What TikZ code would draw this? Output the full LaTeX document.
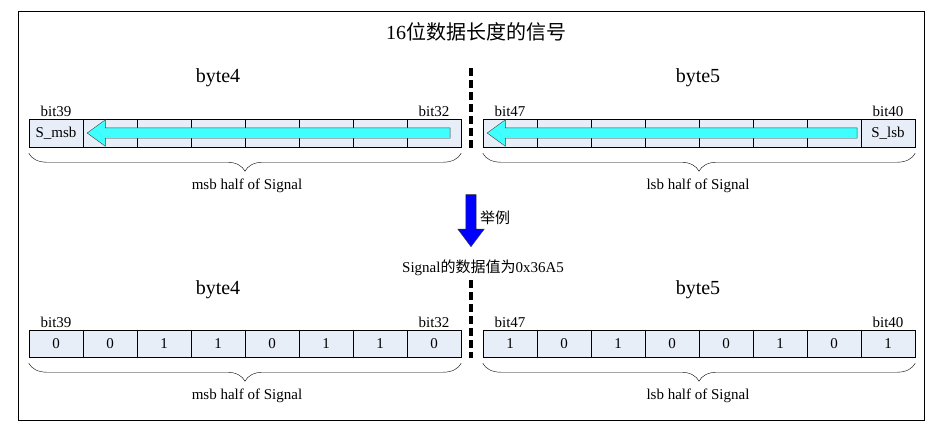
\documentclass[tikz,border=0pt]{standalone}
\usepackage{fontspec}
\setmainfont{Liberation Serif}
\newfontfamily\cjk{Noto Sans CJK SC}
\usepackage{tikz}
\usetikzlibrary{positioning,arrows.meta,shapes.arrows,decorations.pathreplacing}
\definecolor{cellbg}{RGB}{232,238,248}
\definecolor{barcyan}{RGB}{64,255,255}
\newcommand{\fsm}{\fontsize{15}{15}\selectfont}
\newcommand{\fbig}{\fontsize{20}{20}\selectfont}

\begin{document}
\begin{tikzpicture}[x=1pt, y=-1pt,
  cell/.style={draw, fill=cellbg, minimum width=54pt, minimum height=#1, inner sep=0pt, font=\fsm},
  cell/.default=28pt,
  lbl/.style={font=\fsm, inner sep=1pt},
  ttl/.style={font=\fbig, inner sep=1pt},
  brc/.style={decorate, decoration={brace, mirror, amplitude=18pt}},
  sepline/.style={line width=3.2pt, dash pattern=on 8pt off 4pt},
  bar/.style={single arrow, draw=black!75, fill=barcyan, inner sep=5pt, minimum width=26pt,
    single arrow head extend=8pt, single arrow tip angle=72, shape border rotate=180}]
\useasboundingbox (0,0) rectangle (937,440);
\draw[semithick] (18,11) rectangle (924,420);
\node[ttl] (title) at (476,32) {16{\cjk 位数据长度的信号}};
% upper part
\node[ttl] (b4u) at (218,78) {byte4};
\node[ttl] (b5u) at (698,78) {byte5};
\foreach \i in {1,...,7} \node[cell] (ua\i) at ({56+54*\i},133) {};
\node[cell] (ua0) at (56,133) {S\_msb};
\foreach \i in {0,...,6} \node[cell] (ub\i) at ({510+54*\i},133) {};
\node[cell] (ub7) at (888,133) {S\_lsb};
\node[bar, minimum height=363pt, anchor=tip] (arra) at ([xshift=4pt]ua1.west) {};
\node[bar, minimum height=370pt, anchor=tip] (arrb) at ([xshift=4pt]ub0.west) {};
\node[lbl, above=1pt of ua0.north] {bit39};
\node[lbl, above=1pt of ua7.north] {bit32};
\node[lbl, above=1pt of ub0.north] {bit47};
\node[lbl, above=1pt of ub7.north] {bit40};
\draw[sepline] (471,68) -- (471,150);
\draw[brc] ([yshift=-6pt]ua0.south west) -- ([yshift=-6pt]ua7.south east);
\draw[brc] ([yshift=-6pt]ub0.south west) -- ([yshift=-6pt]ub7.south east);
\node[lbl] (msbu) at (247,186) {msb half of Signal};
\node[lbl] (lsbu) at (698,186) {lsb half of Signal};
% example arrow
\node[single arrow, draw=black!80, fill=blue, inner sep=5pt, minimum width=26pt, minimum height=52pt,
  single arrow head extend=8pt, single arrow tip angle=74, shape border rotate=270, anchor=tip] (down) at (471,247) {};
\node[lbl] (ex) at (495,218) {\cjk 举例};
\node[lbl] (sig) at (483,268) {Signal{\cjk 的数据值为}0x36A5};
% lower part
\node[ttl] (b4l) at (218,290) {byte4};
\node[ttl] (b5l) at (698,290) {byte5};
\foreach \v [count=\i from 0] in {0,0,1,1,0,1,1,0} \node[cell=27pt] (la\i) at ({56+54*\i},343.5) {\v};
\foreach \v [count=\i from 0] in {1,0,1,0,0,1,0,1} \node[cell=27pt] (lb\i) at ({510+54*\i},343.5) {\v};
\node[lbl, above=1pt of la0.north] {bit39};
\node[lbl, above=1pt of la7.north] {bit32};
\node[lbl, above=1pt of lb0.north] {bit47};
\node[lbl, above=1pt of lb7.north] {bit40};
\draw[sepline] (471,280) -- (471,358);
\draw[brc] ([yshift=-6pt]la0.south west) -- ([yshift=-6pt]la7.south east);
\draw[brc] ([yshift=-6pt]lb0.south west) -- ([yshift=-6pt]lb7.south east);
\node[lbl] (msbl) at (247,396) {msb half of Signal};
\node[lbl] (lsbl) at (698,396) {lsb half of Signal};
\end{tikzpicture}
\end{document}
